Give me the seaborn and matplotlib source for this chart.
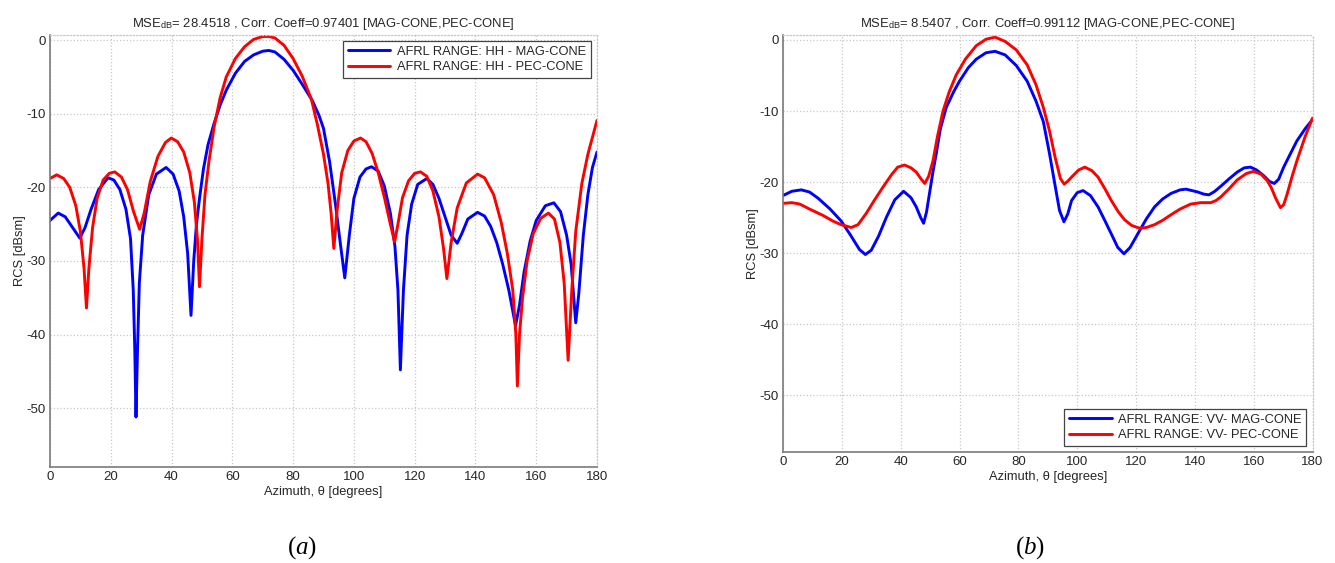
import numpy as np
import pandas as pd
import matplotlib
matplotlib.use("Agg")
import matplotlib.pyplot as plt
import seaborn as sns

# HH polarisation, panel (a)
hh_az_mag = [0, 2.7, 5, 7, 9.8, 11.5, 13.5, 16, 19.1, 21, 23, 25, 26.5, 27.4, 27.9, 28.3, 28.8, 29.4,
             30.5, 32.5, 35, 38.2, 40.5, 42.5, 44, 45.3, 46.4, 47.3, 48.2, 49.2, 50.5, 52, 54, 56, 58,
             61, 64, 67, 70, 72, 74, 77, 80, 83, 86.3, 88.5, 90, 92, 94, 95.5, 97, 98.5, 100, 102,
             104, 105.8, 108, 110, 112, 113.5, 114.5, 115.3, 116.3, 117.5, 119, 121, 124, 126, 128,
             130, 132, 134, 135.5, 137.5, 140.7, 143, 145, 147, 149, 151, 153.2, 154.5, 156, 158,
             160, 163, 165.8, 168, 170, 171.5, 173, 174, 175.5, 177, 178.5, 180]
hh_rcs_mag = [-24.5, -23.5, -24.0, -25.2, -26.9, -25.5, -23, -20.3, -18.7, -19.0, -20.3, -23, -27, -34,
              -42, -51.2, -42, -33, -26.5, -21, -18.2, -17.3, -18.2, -20.5, -24, -29, -37.4, -30, -25,
              -21.5, -17.5, -14.2, -11.3, -8.8, -6.8, -4.5, -2.9, -2.0, -1.5, -1.4, -1.6, -2.6, -4.1,
              -6.0, -8.2, -10.2, -12, -16.5, -22.5, -27.5, -32.3, -26.5, -21.5, -18.6, -17.5, -17.2,
              -17.8, -19.8, -23.5, -28, -34, -44.8, -34, -26.5, -22.3, -19.6, -18.8, -19.6, -21.5, -24,
              -26.5, -27.6, -26.3, -24.3, -23.4, -23.9, -25.3, -27.5, -30.5, -34, -38.8, -36, -31.5,
              -27.3, -24.5, -22.5, -22.1, -23.3, -26.5, -30.5, -38.4, -34.5, -26.5, -21, -17.3, -15.2]

hh_az_pec = [0, 2.2, 4.5, 6.5, 8.5, 10, 11.2, 12.0, 12.8, 14, 15.5, 17.5, 19.5, 21.3, 23.5, 25.5, 27.5,
             29.5, 31, 33, 35.5, 38, 39.9, 42, 44, 46, 47.5, 48.5, 49.2, 50, 51, 52.3, 54, 56, 58, 61,
             64, 67, 70, 72.1, 74, 77, 80, 83, 86, 88, 90, 91.5, 92.5, 93.4, 94.5, 96, 98, 100, 102.2,
             104, 106, 108, 110, 112, 113.4, 114.5, 116, 118, 120, 121.9, 124, 126, 128, 129.5, 130.6,
             132, 134, 137, 140.7, 143, 146, 148.5, 150.5, 152.3, 153.3, 153.8, 154.5, 155.5, 157, 159,
             161.5, 164, 166, 167.8, 169.2, 170.5, 171.7, 173, 175, 177, 180]
hh_rcs_pec = [-18.8, -18.3, -18.8, -20, -22.5, -26, -31, -36.4, -31, -25.5, -21.5, -19, -18.1, -17.9,
              -18.6, -20.3, -23.3, -25.7, -23.5, -19.2, -15.8, -13.9, -13.3, -13.8, -15.2, -18, -22,
              -27, -33.5, -27, -21, -16.5, -11.8, -7.8, -5, -2.5, -0.9, 0.1, 0.5, 0.5, 0.3, -0.7, -2.5,
              -4.9, -8, -11.5, -15.5, -19.5, -23.5, -28.3, -23, -18, -15, -13.7, -13.3, -13.8, -15.4,
              -18, -21.3, -25, -27.4, -25, -21.4, -19.1, -18.1, -17.9, -18.5, -20.5, -24, -28.3, -32.4,
              -27.5, -22.8, -19.4, -18.2, -18.7, -21, -24.8, -29, -34, -40, -47, -40, -35, -30, -26.3,
              -24.2, -23.5, -24.3, -27.5, -33, -43.5, -34, -26, -19.5, -15.5, -10.9]

# VV polarisation, panel (b)
vv_az_mag = [0, 3, 6.2, 9, 12, 16, 19.8, 23, 26, 28, 30, 32.5, 35.1, 38, 41, 43.5, 45.3, 46.8, 47.8,
             48.8, 49.8, 51, 52.1, 53.5, 55.5, 58, 60, 63, 65.7, 69, 72.1, 75.5, 79.3, 83, 86, 88.5,
             90.6, 92.5, 94, 95.5, 96.8, 98.1, 100, 102, 104.5, 107.1, 109.5, 111.6, 113.8, 115.9, 118,
             120.6, 123.5, 126.3, 129, 131.9, 135, 137, 139, 141, 143, 144.8, 146.8, 148.8, 151.5,
             154.4, 156.8, 158.9, 161, 163.4, 165.3, 167, 168.5, 170.2, 172.5, 174.7, 177.5, 180]
vv_rcs_mag = [-21.9, -21.3, -21.1, -21.4, -22.3, -23.8, -25.5, -27.5, -29.5, -30.2, -29.6, -27.6, -25,
              -22.5, -21.3, -22.2, -23.5, -25, -25.8, -24.2, -21.6, -18.5, -16, -12.5, -9.5, -7.3, -5.8,
              -3.9, -2.7, -1.8, -1.6, -2.1, -3.6, -5.8, -8.6, -11.5, -16, -20.5, -24, -25.6, -24.5,
              -22.6, -21.5, -21.2, -21.9, -23.5, -25.5, -27.3, -29.2, -30.1, -29.2, -27.3, -25.2, -23.5,
              -22.4, -21.6, -21.1, -21, -21.2, -21.4, -21.7, -21.8, -21.3, -20.6, -19.6, -18.6, -18,
              -17.9, -18.3, -19.1, -19.9, -20.2, -19.6, -17.9, -16, -14.2, -12.5, -11.2]

vv_az_pec = [0, 3, 5.7, 9, 13.6, 17, 19.8, 23.2, 25.5, 28.3, 31, 34, 37, 39, 41.3, 43.5, 45.3, 47, 48.2,
             49.5, 51, 52.5, 54.4, 56.5, 58.9, 62, 65.7, 69, 72.1, 75.5, 79.3, 83, 86, 88.5, 90.6, 92.5,
             94.3, 95.6, 97, 98.1, 100.5, 102.6, 105, 107.1, 109.5, 111.6, 114, 116.1, 118.5, 121.2,
             123.5, 126.3, 129, 131.9, 135, 138.6, 142, 145.4, 147.2, 148.8, 151.5, 154.4, 157.5, 160,
             162.5, 164.6, 166, 167.4, 169.1, 170.2, 171.3, 173, 174.7, 177.5, 180]
vv_rcs_pec = [-23, -22.9, -23.1, -23.8, -24.7, -25.5, -26, -26.4, -26, -24.4, -22.6, -20.7, -18.9, -17.9,
              -17.6, -18, -18.6, -19.6, -20.2, -19.2, -17, -13.6, -10, -7.3, -4.9, -2.7, -0.8, 0.1, 0.4,
              -0.2, -1.4, -3.5, -6.3, -9.5, -12.8, -16.5, -19.5, -20.3, -19.8, -19.3, -18.3, -17.9,
              -18.4, -19.3, -21, -22.6, -24.2, -25.3, -26.1, -26.5, -26.4, -26, -25.4, -24.6, -23.8,
              -23.1, -22.9, -22.9, -22.6, -22.1, -21, -19.7, -18.8, -18.5, -18.9, -19.8, -20.8, -22.2,
              -23.6, -23.2, -21.8, -19.3, -17, -13.6, -11]

titles = [r"MSE$_{\mathrm{dB}}$= 28.4518 , Corr. Coeff=0.97401 [MAG-CONE,PEC-CONE]",
          r"MSE$_{\mathrm{dB}}$= 8.5407 , Corr. Coeff=0.99112 [MAG-CONE,PEC-CONE]"]
hh_labels = ["AFRL RANGE: HH - MAG-CONE", "AFRL RANGE: HH - PEC-CONE"]
vv_labels = ["AFRL RANGE: VV- MAG-CONE", "AFRL RANGE: VV- PEC-CONE"]
captions = ["a", "b"]

sns.set_style("whitegrid")
plt.rcParams['font.family'] = ['Liberation Sans', 'DejaVu Sans']
plt.rcParams['axes.unicode_minus'] = False
plt.rcParams['mathtext.fontset'] = 'custom'
plt.rcParams['mathtext.rm'] = 'Liberation Sans'
plt.rcParams['mathtext.it'] = 'Liberation Serif:italic'

fig = plt.figure(figsize=(13.35, 5.63), dpi=100)
W, H = 1335, 563
ax_a = fig.add_axes([50 / W, 1 - 467 / H, (597 - 50) / W, (467 - 35) / H])
ax_b = fig.add_axes([783 / W, 1 - 452 / H, (1312.5 - 783) / W, (452 - 35) / H])

panels = [
    (ax_a, hh_az_mag, hh_rcs_mag, hh_az_pec, hh_rcs_pec, hh_labels, "upper right"),
    (ax_b, vv_az_mag, vv_rcs_mag, vv_az_pec, vv_rcs_pec, vv_labels, "lower right"),
]

txt_col = "#262626"
for i, (ax, xm, ym, xp, yp, labs, loc) in enumerate(panels):
    df_m = pd.DataFrame({"az": xm, "rcs": ym})
    df_p = pd.DataFrame({"az": xp, "rcs": yp})
    sns.lineplot(data=df_m, x="az", y="rcs", ax=ax, color="#0000FF", lw=2.1, label=labs[0],
                 solid_joinstyle="round")
    sns.lineplot(data=df_p, x="az", y="rcs", ax=ax, color="#FF0000", lw=2.1, label=labs[1],
                 solid_joinstyle="round")

    ax.set_xlim(0, 180)
    ax.set_ylim(-58, 0.7)
    ax.set_xticks(np.arange(0, 181, 20))
    ax.set_yticks([0, -10, -20, -30, -40, -50])
    ax.grid(True, color="#c8c8c8", linestyle=":", linewidth=0.9)
    ax.tick_params(axis="both", labelsize=9.5, direction="in", length=3, width=0.8, pad=3,
                   colors="#888888", labelcolor=txt_col)
    for s in ["left", "bottom"]:
        ax.spines[s].set_color("#7a7a7a")
        ax.spines[s].set_linewidth(1.2)
    for s in ["top", "right"]:
        ax.spines[s].set_color("#c8c8c8")
        ax.spines[s].set_linestyle(":")
        ax.spines[s].set_linewidth(0.9)

    ax.set_xlabel(r"Azimuth, θ [degrees]", fontsize=9.3, color=txt_col, labelpad=2)
    ax.set_ylabel("RCS [dBsm]", fontsize=9.3, color=txt_col, labelpad=0)
    ax.set_title(titles[i], fontsize=9.4, color=txt_col, pad=6)

    leg = ax.legend(loc=loc, fontsize=9.3, handlelength=3.3, frameon=True, fancybox=False,
                    framealpha=1, borderpad=0.35, labelspacing=0.25, handletextpad=0.5,
                    borderaxespad=0.5)
    leg.get_frame().set_edgecolor("#444444")
    leg.get_frame().set_linewidth(0.9)

cap_x = [302 / W, 1030 / W]
for cx, c in zip(cap_x, captions):
    fig.text(cx, 1 - 548 / H, "($\\mathit{" + c + "}$)", fontsize=18, ha="center", va="center",
             family="Liberation Serif", color="black")

fig.savefig("out.png", dpi=100)
